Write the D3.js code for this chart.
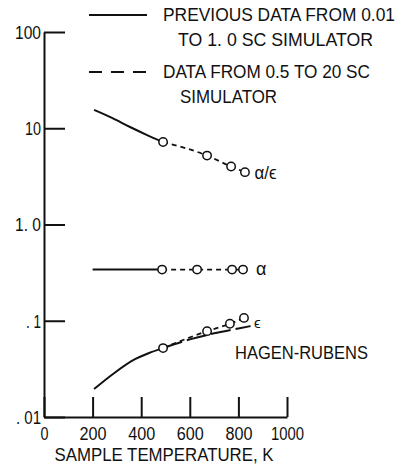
<!DOCTYPE html>
<html><head><meta charset="utf-8">
<script src="https://cdn.jsdelivr.net/npm/d3@7"></script>
<style>
html,body{margin:0;padding:0;background:#fff;}
svg{display:block;}
text{font-family:"Liberation Sans","Arial",sans-serif;fill:#111;}
</style></head>
<body><svg id="c" width="402" height="470"></svg>
<script>
// ---- data ----
const xTicks = [0, 200, 400, 600, 800, 1000];
const xTickLabels = ["0", "200", "400", "600", "800", "1000"];
const yTicks = [100, 10, 1, 0.1, 0.01];
const yTickLabels = ["100", "10", "1. 0", ". 1", ". 01"];

// previous data (0.01 to 1.0 SC simulator) - solid curves
const prevAETemp = [206, 280, 354, 420, 490];
const prevAE = [15.5, 12.8, 10.3, 8.6, 7.2];
const prevAlphaTemp = [200, 490];
const prevAlpha = [0.34, 0.34];
const prevEpsTemp = [206, 284, 367, 430, 490];
const prevEps = [0.0195, 0.028, 0.039, 0.046, 0.052];

// Hagen-Rubens extension
const hrTemp = [490, 600, 700, 800, 850];
const hrEps = [0.052, 0.064, 0.074, 0.083, 0.088];

// data from 0.5 to 20 SC simulator - circles, short dashes
const aeTemp = [490, 671, 770, 827];
const aeVal = [7.2, 5.2, 4.0, 3.5];
const alphaTemp = [486, 630, 774, 819];
const alphaVal = [0.34, 0.34, 0.34, 0.34];
const epsTemp = [490, 671, 765, 823];
const epsVal = [0.052, 0.078, 0.093, 0.107];

const legendItems = [
  {dash: null, lines: ["PREVIOUS DATA FROM 0.01", "TO 1. 0 SC SIMULATOR"]},
  {dash: "13 9", lines: ["DATA FROM 0.5 TO 20 SC", "SIMULATOR"]}
];

// ---- drawing ----
const svg = d3.select("#c");
const x = d3.scaleLinear().domain([0, 1000]).range([44, 287]);
const y = d3.scaleLog().domain([0.01, 100]).range([417, 32]);

function fit(sel, w) {
  sel.attr("textLength", w).attr("lengthAdjust", "spacingAndGlyphs");
}

// axes
const xLabW = [8, 27, 27, 27, 27, 33];
const gx = svg.append("g").attr("transform", `translate(0,${y(0.01)})`)
  .call(d3.axisBottom(x).tickValues(xTicks).tickFormat((d, i) => xTickLabels[i])
    .tickSizeInner(-20).tickSizeOuter(0).tickPadding(0));
gx.select(".domain").attr("stroke", "#111").attr("stroke-width", 2);
gx.selectAll(".tick line").attr("stroke", "#111").attr("stroke-width", 2);
gx.selectAll(".tick text").attr("y", 17).attr("dy", "0.35em")
  .style("font-size", "18px").attr("fill", "#111")
  .each(function(d, i) { fit(d3.select(this), xLabW[i]); });

const yLabW = [26, 16, 26, 15, 25];
const gy = svg.append("g").attr("transform", `translate(${x(0)},0)`)
  .call(d3.axisLeft(y).tickValues(yTicks).tickFormat((d, i) => yTickLabels[i])
    .tickSizeInner(-21).tickSizeOuter(0).tickPadding(3));
gy.select(".domain").attr("stroke", "#111").attr("stroke-width", 2);
gy.selectAll(".tick line").attr("stroke", "#111").attr("stroke-width", 2);
gy.selectAll(".tick text").attr("x", -3).attr("dy", "0.35em")
  .style("font-size", "18px").attr("fill", "#111")
  .each(function(d, i) { fit(d3.select(this), yLabW[i]); });

fit(svg.append("text").attr("x", 164).attr("y", 455).attr("dy", "0.35em")
  .attr("text-anchor", "middle").style("font-size", "18px")
  .text("SAMPLE TEMPERATURE, K"), 219);

const line = d3.line().x(d => x(d[0])).y(d => y(d[1])).curve(d3.curveMonotoneX);
function path(ts, vs, dash, w) {
  svg.append("path").datum(ts.map((t, i) => [t, vs[i]]))
    .attr("d", line).attr("fill", "none").attr("stroke", "#111")
    .attr("stroke-width", w).attr("stroke-dasharray", dash);
}
path(prevAETemp, prevAE, null, 2);
path(prevAlphaTemp, prevAlpha, null, 2);
path(prevEpsTemp, prevEps, null, 2);
path(hrTemp, hrEps, "20 5", 2);
path(aeTemp, aeVal, "5 4", 1.8);
path(alphaTemp, alphaVal, "5 4", 1.8);
path(epsTemp, epsVal, "5 4", 1.8);

function circles(ts, vs) {
  svg.append("g").selectAll("circle").data(ts.map((t, i) => [t, vs[i]])).join("circle")
    .attr("cx", d => x(d[0])).attr("cy", d => y(d[1])).attr("r", 4.2)
    .attr("fill", "#fff").attr("stroke", "#111").attr("stroke-width", 1.5);
}
circles(aeTemp, aeVal);
circles(alphaTemp, alphaVal);
circles(epsTemp, epsVal);

// curve labels
fit(svg.append("text").attr("x", x(866)).attr("y", y(aeVal[3])).attr("dy", "0.4em")
  .style("font-size", "18px").text("α/ϵ"), 22);
svg.append("text").attr("x", x(872)).attr("y", y(alphaVal[3])).attr("dy", "0.3em")
  .style("font-size", "18px").text("α");
svg.append("text").attr("x", x(864)).attr("y", y(0.094)).attr("dy", "0.3em")
  .style("font-size", "15px").text("ϵ");
fit(svg.append("text").attr("x", 235).attr("y", 353).attr("dy", "0.35em")
  .style("font-size", "18px").text("HAGEN-RUBENS"), 133);

// legend
const lg = svg.append("g");
const legY = [15, 72];
const lineX = [89, 147];
const textX = [[163, 178], [163, 180]];
const textW = [[232, 195], [207, 97]];
legendItems.forEach((it, i) => {
  lg.append("line").attr("x1", lineX[0]).attr("x2", lineX[1])
    .attr("y1", legY[i]).attr("y2", legY[i]).attr("stroke", "#111")
    .attr("stroke-width", 2).attr("stroke-dasharray", it.dash);
  it.lines.forEach((s, j) => {
    fit(lg.append("text").attr("x", textX[i][j]).attr("y", legY[i] + j * 25).attr("dy", "0.35em")
      .style("font-size", "18px").text(s), textW[i][j]);
  });
});
</script></body></html>
